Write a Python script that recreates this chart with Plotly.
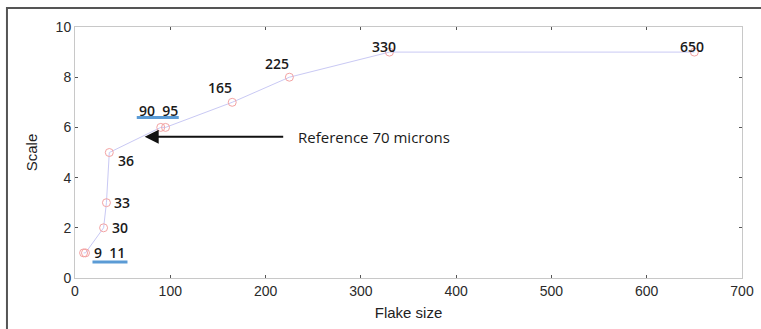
import numpy as np
import plotly.graph_objects as go

# ---- data ----
flake_size = [9, 11, 30, 33, 36, 90, 95, 165, 225, 330, 650]
scale = [1, 1, 2, 3, 5, 6, 6, 7, 8, 9, 9]

label_texts = ["9  11", "30", "33", "36", "90  95", "165", "225", "330", "650"]
label_x = [11, 30, 33, 36, 90, 165, 225, 330, 650]
label_y = [1, 2, 3, 5, 6, 7, 8, 9, 9]
underlined = ["9  11", "90  95"]

reference_size = 70
reference_text = "Reference 70 microns"

x_ticks = [0, 100, 200, 300, 400, 500, 600, 700]
y_ticks = [0, 2, 4, 6, 8, 10]

# ---- styling / layout offsets ----
label_font = dict(family="Open Sans", size=14, color="#1a1a1a", weight=600)
# per-label pixel offsets (xanchor, xshift, yshift)
label_offsets = {
    "9  11": ("left", 7, 0),
    "30": ("left", 6, 0),
    "33": ("left", 6, 0),
    "36": ("left", 7, -8),
    "90  95": ("center", -2, 17),
    "165": ("center", -12, 15),
    "225": ("center", -12, 14),
    "330": ("center", -5, 6),
    "650": ("center", -2, 6),
}
underline_px = {
    "9  11": (7, 42, -9),
    "90  95": (-24, 18, 10),
}

fig = go.Figure()
fig.add_trace(go.Scatter(
    x=flake_size, y=scale, mode="lines+markers",
    line=dict(color="#c9c9f4", width=1),
    marker=dict(symbol="circle-open", size=8, color="#f3a3a3", line=dict(width=1)),
    showlegend=False, hoverinfo="skip",
))

annotations = []
shapes = []
for t, xv, yv in zip(label_texts, label_x, label_y):
    anchor, xs, ys = label_offsets[t]
    annotations.append(dict(
        x=xv, y=yv, xref="x", yref="y", text=t, showarrow=False,
        xanchor=anchor, yanchor="middle", xshift=xs, yshift=ys, font=label_font,
    ))
    if t in underlined:
        x0, x1, yo = underline_px[t]
        shapes.append(dict(
            type="line", xref="x", yref="y",
            xsizemode="pixel", ysizemode="pixel",
            xanchor=xv, yanchor=yv, x0=x0, x1=x1, y0=yo, y1=yo,
            line=dict(color="#5b9bd5", width=3),
        ))

ref_y = float(np.interp(reference_size, flake_size, scale))
annotations.append(dict(
    x=reference_size, y=ref_y, xref="x", yref="y",
    ax=140, ay=0, axref="pixel", ayref="pixel",
    text="", showarrow=True, arrowhead=2, arrowsize=1.4, arrowwidth=2,
    arrowcolor="#111111", xshift=3,
))
annotations.append(dict(
    x=reference_size, y=ref_y, xref="x", yref="y", text=reference_text,
    showarrow=False, xanchor="left", yanchor="middle", xshift=154,
    font=dict(family="Open Sans", size=15, color="#1a1a1a"),
))

# outer frame (partially cut off at right/bottom)
shapes.append(dict(
    type="rect", xref="paper", yref="paper",
    x0=-0.102, x1=1.2, y0=-0.4, y1=1.076,
    line=dict(color="#555555", width=2), layer="below",
))

axis_common = dict(
    showgrid=False, zeroline=False, showline=True, linecolor="#c8c8c8", linewidth=1,
    mirror="ticks", ticks="inside", ticklen=3, tickcolor="#555555", tickwidth=1,
    tickfont=dict(family="Liberation Sans", size=14, color="#2a2a2a"),
    automargin=False,
)

fig.update_layout(
    width=761, height=329,
    margin=dict(l=75, r=19, t=27, b=51),
    paper_bgcolor="white", plot_bgcolor="white",
    xaxis=dict(range=[0, 700], tickvals=x_ticks, **axis_common,
               title=dict(text="Flake size", standoff=9,
                          font=dict(family="Liberation Sans", size=15, color="#222222"))),
    yaxis=dict(range=[0, 10], tickvals=y_ticks, **axis_common,
               title=dict(text="Scale", standoff=14,
                          font=dict(family="Liberation Sans", size=15, color="#222222"))),
    annotations=annotations, shapes=shapes,
)

fig.write_html("out.html", config={"displayModeBar": False},
               post_script="document.body.style.margin='0';")
